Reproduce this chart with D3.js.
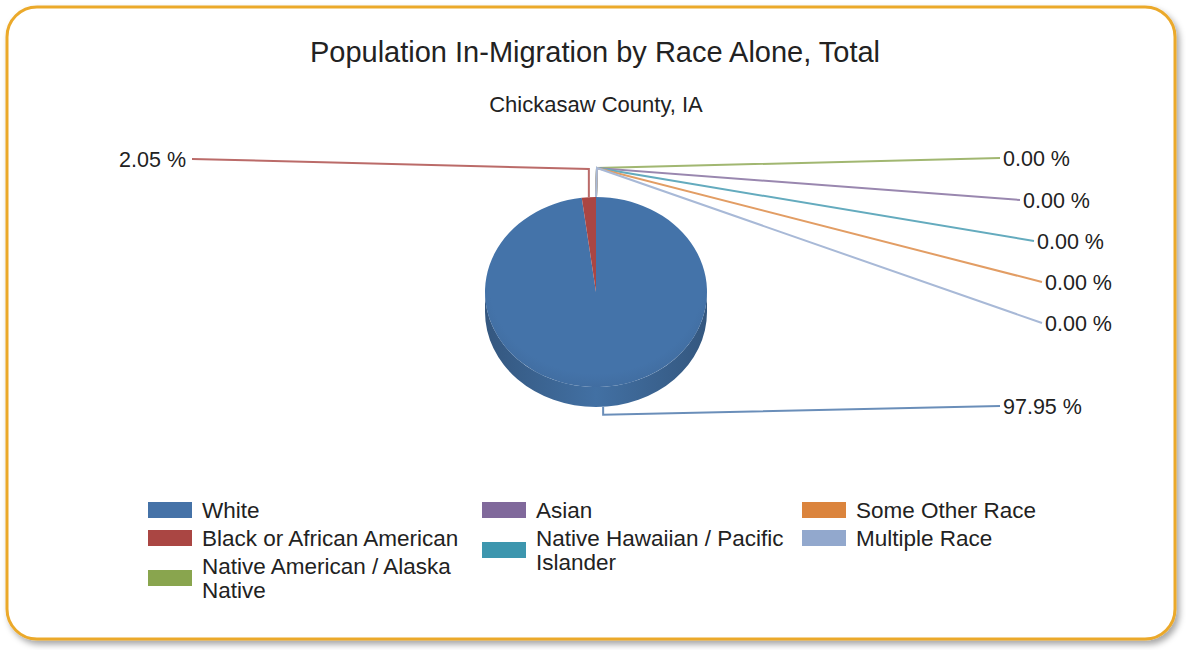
<!DOCTYPE html>
<html lang="en">
<head>
<meta charset="utf-8">
<title>Population In-Migration by Race Alone, Total</title>
<script src="https://cdn.jsdelivr.net/npm/d3@7"></script>
<style>
  body { margin: 0; background: #fff; }
  svg text { font-family: "Liberation Sans", Arial, sans-serif; fill: #222; }
</style>
</head>
<body>
<script>
// chart data
var categories = ["White", "Black or African American", "Native American / Alaska Native",
                  "Asian", "Native Hawaiian / Pacific Islander", "Some Other Race", "Multiple Race"];
var shares = [97.95, 2.05, 0, 0, 0, 0, 0];
var colors = ["#4572A7", "#AA4643", "#89A54E", "#80699B", "#3D96AE", "#DB843D", "#92A8CD"];
var title = "Population In-Migration by Race Alone, Total";
var subtitle = "Chickasaw County, IA";

// layout (label end points, legend slots)
var labelPos = [[1003, 406, "start"], [186, 159, "end"], [1003, 158, "start"], [1023, 200, "start"],
                [1037, 241, "start"], [1045, 282, "start"], [1045, 323, "start"]];
var legendSlot = [[0, 0], [0, 1], [0, 2], [1, 0], [1, 1], [2, 0], [2, 1]];
var legendColX = [148, 482, 802];

var W = 1186, H = 650;
var cx = 596, cy = 292, rx = 111, ry = 95, depth = 20;
var elbowY = 168;

var svg = d3.select("body").append("svg").attr("width", W).attr("height", H);
var defs = svg.append("defs");

var f = defs.append("filter").attr("id", "shadow").attr("x", "-5%").attr("y", "-5%")
  .attr("width", "110%").attr("height", "115%");
f.append("feDropShadow").attr("dx", 3).attr("dy", 4).attr("stdDeviation", 3)
  .attr("flood-color", "#000").attr("flood-opacity", 0.35);

svg.append("rect").attr("x", 7).attr("y", 7).attr("width", 1168).attr("height", 632)
  .attr("rx", 30).attr("ry", 30)
  .attr("fill", "#fff").attr("stroke", "#EBA92B").attr("stroke-width", 3)
  .attr("filter", "url(#shadow)");

svg.append("text").attr("x", cx - 1).attr("y", 62).attr("text-anchor", "middle")
  .attr("font-size", 29).text(title);
svg.append("text").attr("x", cx).attr("y", 112).attr("text-anchor", "middle")
  .attr("font-size", 22).text(subtitle);

// gradients
var side = defs.append("linearGradient").attr("id", "sideGrad")
  .attr("x1", 0).attr("x2", 1).attr("y1", 0).attr("y2", 0);
side.append("stop").attr("offset", "0%").attr("stop-color", "#34577f");
side.append("stop").attr("offset", "50%").attr("stop-color", "#4270a3");
side.append("stop").attr("offset", "100%").attr("stop-color", "#34577f");

var topG = defs.append("radialGradient").attr("id", "topGrad")
  .attr("cx", "50%").attr("cy", "45%").attr("r", "60%");
topG.append("stop").attr("offset", "80%").attr("stop-color", "#4473a9");
topG.append("stop").attr("offset", "100%").attr("stop-color", "#3f6a9c");

var pie = d3.pie().sort(null).value(function(d) { return d; });
var arcs = pie(shares);

function pt(a, y0) { return [cx + rx * Math.sin(a), (y0 === undefined ? cy : y0) - ry * Math.cos(a)]; }

function topPath(d) {
  var a0 = d.startAngle, a1 = d.endAngle;
  if (a1 - a0 >= 2 * Math.PI - 1e-6) {
    return "M" + (cx - rx) + "," + cy + "A" + rx + "," + ry + " 0 1 1 " + (cx + rx) + "," + cy +
           "A" + rx + "," + ry + " 0 1 1 " + (cx - rx) + "," + cy + "Z";
  }
  var p0 = pt(a0), p1 = pt(a1);
  var large = (a1 - a0) > Math.PI ? 1 : 0;
  return "M" + cx + "," + cy + "L" + p0 + "A" + rx + "," + ry + " 0 " + large + " 1 " + p1 + "Z";
}

function sidePath(d) {
  var a0 = Math.max(d.startAngle, Math.PI / 2), a1 = Math.min(d.endAngle, 3 * Math.PI / 2);
  if (a1 <= a0) return null;
  var p0 = pt(a0), p1 = pt(a1), q1 = pt(a1, cy + depth), q0 = pt(a0, cy + depth);
  var large = (a1 - a0) > Math.PI ? 1 : 0;
  return "M" + p0 + "A" + rx + "," + ry + " 0 " + large + " 1 " + p1 +
         "L" + q1 + "A" + rx + "," + ry + " 0 " + large + " 0 " + q0 + "Z";
}

var g = svg.append("g");
g.selectAll("path.side").data(arcs.filter(function(d) { return sidePath(d); }))
  .enter().append("path").attr("class", "side")
  .attr("d", sidePath)
  .attr("fill", function(d) { return d.index === 0 ? "url(#sideGrad)" : d3.color(colors[d.index]).darker(0.6); });

g.selectAll("path.top").data(arcs.filter(function(d) { return d.value > 0; }))
  .enter().append("path").attr("class", "top")
  .attr("d", topPath)
  .attr("fill", function(d) { return d.index === 0 ? "url(#topGrad)" : colors[d.index]; });

// leader lines
var lines = svg.append("g").attr("fill", "none").attr("stroke-width", 2);
arcs.forEach(function(d) {
  var mid = (d.startAngle + d.endAngle) / 2;
  if (mid >= 2 * Math.PI - 1e-9) mid = 0;
  var lp = labelPos[d.index];
  var col = d3.interpolateRgb(colors[d.index], "#fff")(0.2);
  var anchor, bend;
  var front = Math.cos(mid) < 0;
  if (front) {
    anchor = pt(mid, cy + depth);
    bend = [anchor[0], anchor[1] + 8];
  } else {
    anchor = pt(mid);
    bend = [d.value > 0 ? anchor[0] : anchor[0] + 1, elbowY + (d.index === 1 ? 1 : 0)];
  }
  var endX = lp[2] === "end" ? lp[0] + 6 : lp[0] - 3;
  lines.append("path")
    .attr("d", d3.line()([anchor, bend, [endX, lp[1]]]))
    .attr("stroke", col);
  svg.append("text").attr("x", lp[0]).attr("y", lp[1]).attr("dy", "0.35em")
    .attr("text-anchor", lp[2]).attr("font-size", 21.5)
    .text(d3.format(".2f")(d.value) + " %");
});

// legend
var lg = svg.append("g");
categories.forEach(function(name, i) {
  var s = legendSlot[i];
  var x = legendColX[s[0]], top = 498 + s[1] * 28;
  var t = lg.append("text").attr("x", x + 54).attr("font-size", 22.5);
  var words = name.split(" "), line = [], rows = [];
  var probe = t.append("tspan");
  words.forEach(function(w) {
    line.push(w);
    probe.text(line.join(" "));
    if (probe.node().getComputedTextLength() > 272 && line.length > 1) {
      line.pop(); rows.push(line.join(" ")); line = [w];
    }
  });
  rows.push(line.join(" "));
  probe.remove();
  rows.forEach(function(r, k) {
    t.append("tspan").attr("x", x + 54).attr("y", top + 12 + 24 * k).attr("dy", "0.35em").text(r);
  });
  lg.append("rect").attr("x", x).attr("y", top + rows.length * 12 - 8)
    .attr("width", 44).attr("height", 16).attr("fill", colors[i]);
});
</script>
</body>
</html>
